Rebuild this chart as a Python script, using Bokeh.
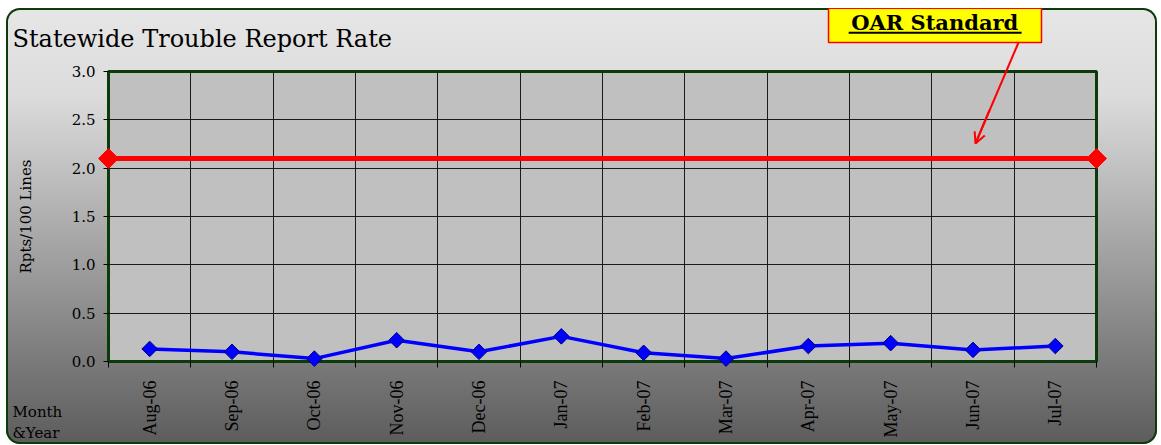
import math
from bokeh.plotting import figure
from bokeh.models import (Range1d, FixedTicker, PrintfTickFormatter, CustomJSTickFormatter,
                          Arrow, OpenHead)
from bokeh.embed import file_html
from bokeh.resources import INLINE
from bokeh.core.properties import value

# ---- data ----
months = ["Aug-06", "Sep-06", "Oct-06", "Nov-06", "Dec-06", "Jan-07",
          "Feb-07", "Mar-07", "Apr-07", "May-07", "Jun-07", "Jul-07"]
report_rate = [0.13, 0.10, 0.03, 0.22, 0.10, 0.26, 0.09, 0.03, 0.16, 0.19, 0.12, 0.16]
oar_standard = 2.1
y_ticks = [0.0, 0.5, 1.0, 1.5, 2.0, 2.5, 3.0]

n = len(months)
x_centers = [i + 0.5 for i in range(n)]
x_edges = list(range(n + 1))
oar_x = [0, n]
oar_y = [oar_standard, oar_standard]

W, H = 1151, 436
p = figure(width=W, height=H, x_range=Range1d(0, n), y_range=Range1d(0, 3),
           output_backend="svg", toolbar_location=None, title=None,
           min_border_left=102, min_border_right=61, min_border_top=63, min_border_bottom=83)

p.styles = {
    "margin-left": "6px",
    "margin-top": "8px",
    "background": "linear-gradient(to bottom, #e6e6e6 0%, #dcdcdc 20%, #5c5c5c 100%)",
    "border-radius": "14px",
    "box-shadow": "inset 0 0 0 2px #0b3b0b",
}
p.border_fill_color = None
p.background_fill_color = "#c0c0c0"
p.outline_line_color = "#0b3b0b"
p.outline_line_width = 3

# y axis
ya = p.yaxis[0]
ya.ticker = FixedTicker(ticks=y_ticks)
ya.formatter = PrintfTickFormatter(format="%.1f")
ya.major_label_text_font = "DejaVu Serif"
ya.major_label_text_font_size = "15px"
ya.major_label_text_color = "black"
ya.axis_line_color = None
ya.major_tick_line_color = "black"
ya.major_tick_out = 5
ya.major_tick_in = 0
ya.minor_tick_line_color = None
ya.major_label_standoff = 8
ya.axis_label = "Rpts/100 Lines"
ya.axis_label_text_font = "DejaVu Serif"
ya.axis_label_text_font_size = "15px"
ya.axis_label_text_font_style = "normal"
ya.axis_label_text_color = "black"
ya.axis_label_standoff = 34

# x axis
xa = p.xaxis[0]
xa.ticker = FixedTicker(ticks=x_centers, minor_ticks=x_edges)
xa.formatter = CustomJSTickFormatter(args=dict(months=months),
                                     code="return months[Math.floor(tick)];")
xa.major_label_orientation = math.pi / 2
xa.major_label_text_font = "Liberation Serif"
xa.major_label_text_font_size = "18px"
xa.major_label_text_color = "black"
xa.major_label_standoff = 13
xa.axis_line_color = None
xa.major_tick_line_color = None
xa.minor_tick_line_color = "black"
xa.minor_tick_out = 6
xa.minor_tick_in = 0

# grids
p.xgrid.grid_line_color = None
p.xgrid.minor_grid_line_color = "#1a1a1a"
p.ygrid.grid_line_color = "#1a1a1a"

# series
p.line(oar_x, oar_y, line_color="#ff0000", line_width=5, level="overlay")
p.scatter(oar_x, oar_y, marker="square", angle=math.pi / 4, size=14,
          fill_color="#ff0000", line_color="#ff0000", level="overlay")

p.line(x_centers, report_rate, line_color="#0000ff", line_width=3.5, level="overlay")
p.scatter(x_centers, report_rate, marker="square", angle=math.pi / 4, size=11,
          fill_color="#0000ff", line_color="#000080", line_width=1, level="overlay")

# texts outside the plot area (overlay level so they are not clipped)
p.text(x=[-1.166], y=[3.34], text=["Statewide Trouble Report Rate"],
       text_font=value("DejaVu Serif"), text_font_size="24px",
       text_baseline="alphabetic", text_color="black", level="overlay")
p.text(x=[-1.166], y=[-0.43], text=["Month\n&Year"],
       text_font=value("DejaVu Serif"), text_font_size="15px", text_line_height=1.15,
       text_baseline="top", text_color="black", level="overlay")

# OAR Standard callout
p.quad(left=[8.745], right=[11.332], bottom=[3.30], top=[3.655],
       fill_color="#ffff00", line_color="#ff0000", line_width=1.5, level="overlay")
p.text(x=[10.035], y=[3.505], text=["OAR Standard"],
       text_font=value("DejaVu Serif"), text_font_style="bold", text_font_size="21px",
       text_align="center", text_baseline="alphabetic", text_color="black", level="overlay")
p.segment(x0=[8.99], y0=[3.40], x1=[11.09], y1=[3.40],
          line_color="black", line_width=2, level="overlay")
p.segment(x0=[11.053], y0=[3.30], x1=[10.53], y1=[2.255],
          line_color="#ff0000", line_width=2, level="overlay")
p.add_layout(Arrow(x_start=10.70, y_start=2.60, x_end=10.53, y_end=2.255,
                   end=OpenHead(size=11, line_color="#ff0000", line_width=2),
                   line_color="#ff0000", line_width=2))

open("out.html", "w").write(file_html(p, INLINE))
